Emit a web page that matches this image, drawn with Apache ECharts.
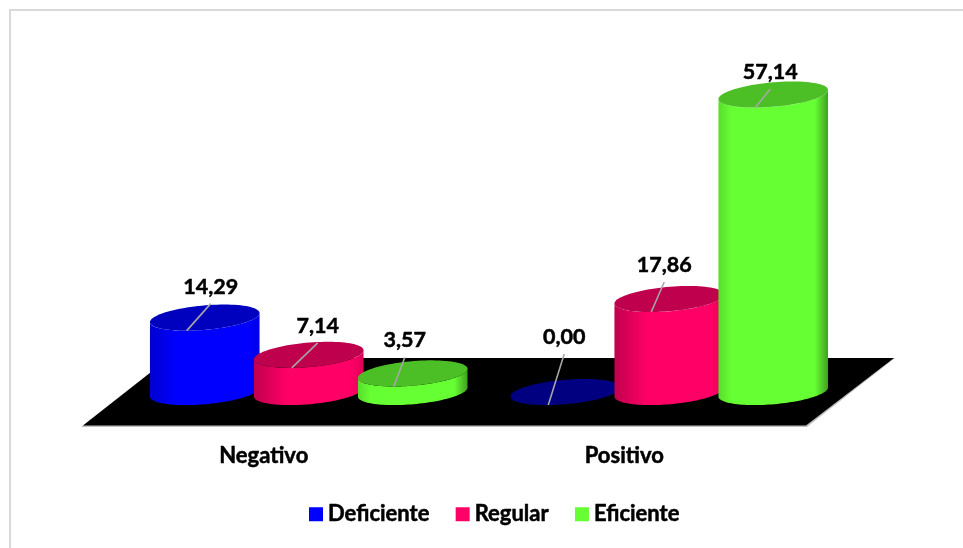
<!DOCTYPE html>
<html><head><meta charset="utf-8">
<style>html,body{margin:0;padding:0;background:#fff}#c{width:963px;height:548px}</style>
<script src="https://cdn.jsdelivr.net/npm/echarts@6/dist/echarts.min.js"></script>
</head><body><div id="c"></div>
<script>
const categories = ['Negativo', 'Positivo'];
const deficiente = [14.29, 0.00];
const regular = [7.14, 17.86];
const eficiente = [3.57, 57.14];

const seriesNames = ['Deficiente', 'Regular', 'Eficiente'];
const seriesValues = [deficiente, regular, eficiente];
const FONT = 'Lato, "Open Sans", sans-serif';
const palette = [
  { main: '#0000FF', edge: '#0000D0', top: '#0000BF', zero: '#000080' },
  { main: '#FF0066', edge: '#C0004D', top: '#BF004D', zero: '#BF004D' },
  { main: '#66FF33', edge: '#3F9F20', top: '#4DBF26', zero: '#4DBF26' }
];
const bodyStops = [
  [[0, 1], [0.25, 0], [0.9, 0], [1, 0.6]],
  [[0, 1], [0.3, 0], [0.88, 0], [1, 0.5]],
  [[0, 0.35], [0.12, 0], [0.88, 0], [1, 1]]
];
// label offset from the top-face centre: [series][category] -> dx, dy
const labelOffsets = [
  [[6, -31], [-1, -55]],
  [[9, -29], [-5, -34]],
  [[-8, -33], [-3, -22.5]]
];
const leaderFoot = [
  [[-18, 13], [-17, 13]],
  [[-17, 13], [-18, 13]],
  [[-19, 13], [-18, 13]]
];
const A = 55, B = 12.2, TILT = -5 * Math.PI / 180, STEP = 104;

function mix(a, b, k) {
  const pa = parseInt(a.slice(1), 16), pb = parseInt(b.slice(1), 16);
  const ch = s => Math.round(((pa >> s) & 255) * (1 - k) + ((pb >> s) & 255) * k);
  return 'rgb(' + ch(16) + ',' + ch(8) + ',' + ch(0) + ')';
}

function ellipsePts(cx, cy, from, to, n) {
  const pts = [];
  for (let i = 0; i <= n; i++) {
    const t = from + (to - from) * i / n;
    const x = A * Math.cos(t), y = B * Math.sin(t);
    pts.push([cx + x * Math.cos(TILT) - y * Math.sin(TILT),
              cy + x * Math.sin(TILT) + y * Math.cos(TILT)]);
  }
  return pts;
}

function cylinder(si) {
  return function (params, api) {
    const cat = api.value(0), val = api.value(1);
    const base = api.coord([cat, 0]), top = api.coord([cat, val]);
    const cx = base[0] + (si - 1) * STEP, by = base[1], ty = top[1];
    const p = palette[si], kids = [];
    if (val > 0) {
      const front = ellipsePts(cx, by, 0, Math.PI, 60);
      const backTop = ellipsePts(cx, ty, Math.PI, 0, 60);
      kids.push({
        type: 'polygon', shape: { points: backTop.concat(front) },
        style: { fill: {
          type: 'linear', x: 0, y: 0, x2: 1, y2: 0,
          colorStops: bodyStops[si].map(s => ({ offset: s[0], color: mix(p.main, p.edge, s[1]) }))
        } }
      });
    }
    kids.push({
      type: 'polygon', shape: { points: ellipsePts(cx, ty, 0, Math.PI * 2, 90) },
      style: { fill: val > 0 ? p.top : p.zero }
    });
    const off = labelOffsets[si][cat], foot = leaderFoot[si][cat];
    const lx = cx + off[0], ly = ty + off[1];
    kids.push({
      type: 'line',
      shape: { x1: cx + foot[0], y1: ty + foot[1], x2: lx, y2: ly + 17 },
      style: { stroke: '#A6A6A6', lineWidth: 1.6 }
    });
    kids.push({
      type: 'text',
      style: { x: lx, y: ly, text: val.toFixed(2).replace('.', ','), fill: '#000',
        stroke: '#000', lineWidth: 0.5,
        font: 'bold 21.5px ' + FONT, align: 'center', verticalAlign: 'middle' }
    });
    return { type: 'group', children: kids };
  };
}

const chart = echarts.init(document.getElementById('c'), null, { renderer: 'canvas' });
chart.setOption({
  animation: false,
  backgroundColor: '#fff',
  graphic: { elements: [
    { type: 'rect', z: -5, shape: { x: 10, y: 10, width: 960, height: 560 },
      style: { fill: '#fff', stroke: '#D9D9D9', lineWidth: 2 } },
    { type: 'polygon', z: -4, shape: { points: [[81, 427], [807, 427], [895, 358], [169, 358]] },
      style: { fill: '#BFBFBF' } },
    { type: 'polygon', z: -3, shape: { points: [[83, 425.5], [806, 425.5], [894, 358], [169, 358]] },
      style: { fill: '#000' } }
  ] },
  legend: {
    left: 304, top: 498, itemWidth: 14, itemHeight: 14, itemGap: 26,
    icon: 'rect', data: seriesNames,
    textStyle: { color: '#000', fontFamily: FONT, fontWeight: 'bold', fontSize: 22, textBorderColor: '#000', textBorderWidth: 0.5 }
  },
  grid: { left: 128.5, right: 113.5, top: 79.64, bottom: 156 },
  xAxis: {
    type: 'category', data: categories,
    axisLine: { show: false }, axisTick: { show: false }, splitLine: { show: false },
    axisLabel: { color: '#000', fontFamily: FONT, fontWeight: 'bold', fontSize: 22, margin: 53, padding: [0, 90, 0, 0], textBorderColor: '#000', textBorderWidth: 0.5 }
  },
  yAxis: { type: 'value', min: 0, max: 60, show: false, splitLine: { show: false } },
  series: seriesNames.map((name, si) => ({
    name, type: 'custom', coordinateSystem: 'cartesian2d',
    itemStyle: { color: palette[si].main },
    encode: { x: 0, y: 1 },
    data: categories.map((c, ci) => [ci, seriesValues[si][ci]]),
    renderItem: cylinder(si), clip: false
  }))
});
</script></body></html>
